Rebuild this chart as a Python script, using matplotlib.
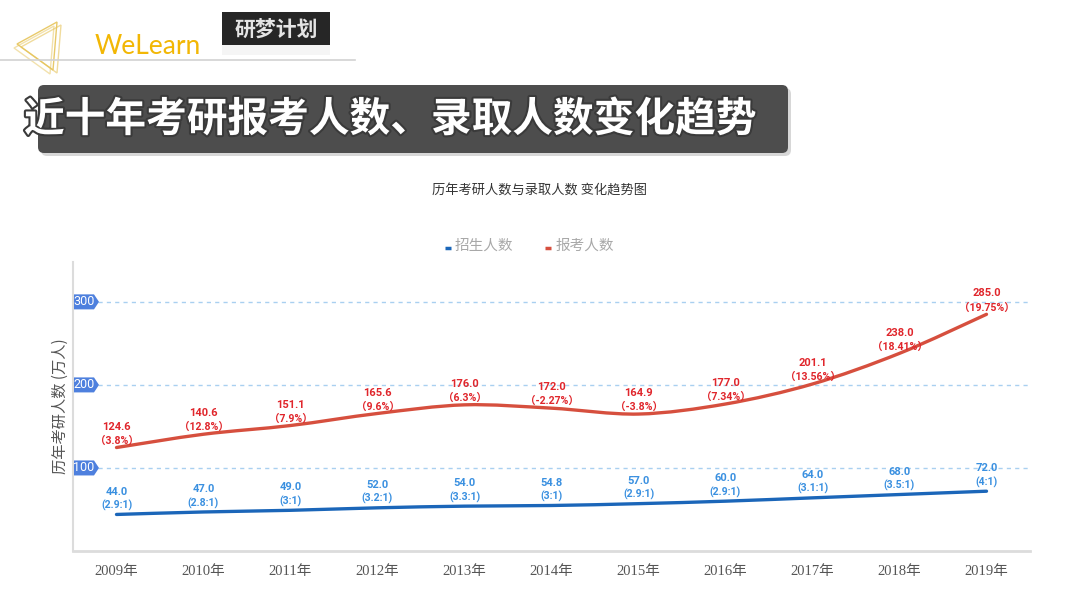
import matplotlib
matplotlib.use("Agg")
import matplotlib.pyplot as plt
import matplotlib.patheffects as pe
import matplotlib.transforms as mtrans
from matplotlib.path import Path
from matplotlib.patches import PathPatch, FancyBboxPatch, Polygon, Rectangle
import numpy as np

plt.rcParams['font.family'] = ['Noto Sans CJK SC', 'DejaVu Sans']

years = ['2009年', '2010年', '2011年', '2012年', '2013年', '2014年',
         '2015年', '2016年', '2017年', '2018年', '2019年']
applicants = [124.6, 140.6, 151.1, 165.6, 176.0, 172.0, 164.9, 177.0, 201.1, 238.0, 285.0]
applicant_growth = ['3.8%', '12.8%', '7.9%', '9.6%', '6.3%', '-2.27%', '-3.8%',
                    '7.34%', '13.56%', '18.41%', '19.75%']
admitted = [44.0, 47.0, 49.0, 52.0, 54.0, 54.8, 57.0, 60.0, 64.0, 68.0, 72.0]
admit_ratio = ['2.9:1', '2.8:1', '3:1', '3.2:1', '3.3:1', '3:1', '2.9:1',
               '2.9:1', '3.1:1', '3.5:1', '4:1']
y_ticks = [100, 200, 300]

RED_LINE = '#d64f3e'
RED_TXT = '#e0262c'
BLUE_LINE = '#1b66b9'
BLUE_TXT = '#3a90e0'
LABEL_FONT = ['Roboto', 'Noto Sans CJK SC']

W, H = 1080, 608
fig = plt.figure(figsize=(W / 100, H / 100), dpi=100)

# decoration layer in pixel coordinates
deco = fig.add_axes([0, 0, 1, 1], zorder=0)
deco.set_xlim(0, W)
deco.set_ylim(H, 0)
deco.axis('off')

# logo triangles
for dx, dy, a in [(0, 0, 0.9), (4, 3, 0.6), (-3, 4, 0.5)]:
    tri = Polygon([(17 + dx, 44 + dy), (57 + dx, 22 + dy), (53 + dx, 70 + dy)],
                  closed=True, fill=False, ec='#e6c45a', lw=1.0, alpha=a)
    deco.add_patch(tri)
deco.plot([0, 355], [60, 60], color='#d2d2d2', lw=1.2)
deco.text(95, 47, 'WeLearn', color='#f2b705', fontsize=19, family='Lato',
          va='center', ha='left')
deco.add_patch(Rectangle((222, 12), 108, 33, fc='#262626', ec='none'))
deco.add_patch(Rectangle((222, 45), 108, 10, fc='#c8c8c8', ec='none', alpha=0.18))
deco.text(276, 29, '研梦计划', color='#e4e4e4', fontsize=15, weight='bold',
          ha='center', va='center')

# title banner
deco.add_patch(FancyBboxPatch((41, 88), 750, 68, boxstyle='round,pad=0,rounding_size=6',
                              fc='#bdbdbd', ec='none', alpha=0.6))
deco.add_patch(FancyBboxPatch((38, 85), 750, 68, boxstyle='round,pad=0,rounding_size=6',
                              fc='#4d4d4d', ec='none'))
deco.text(24, 120, '近十年考研报考人数、录取人数变化趋势', color='white', fontsize=29.3,
          weight='bold', ha='left', va='center',
          path_effects=[pe.withStroke(linewidth=3, foreground='#3a3a3a')])

# chart title and legend
deco.text(540, 191, '历年考研人数与录取人数 变化趋势图', color='#333333', fontsize=9.5,
          ha='center', va='center')
deco.plot([445, 451], [248, 248], color=BLUE_LINE, lw=2.5, solid_capstyle='butt')
deco.text(455, 246, '招生人数', color='#a8a8a8', fontsize=10.5, ha='left', va='center')
deco.plot([545, 551], [248, 248], color=RED_LINE, lw=2.5, solid_capstyle='butt')
deco.text(556, 246, '报考人数', color='#a8a8a8', fontsize=10.5, ha='left', va='center')

# main chart
ax = fig.add_axes([73 / W, (H - 551) / H, (1030 - 73) / W, (551 - 262) / H], zorder=1)
ax.patch.set_alpha(0)
x = np.arange(len(years))
ax.set_xlim(-0.5, len(years) - 0.5)
ax.set_ylim(0, 348)


def smooth_path(xs, ys, k=0.16):
    pts = np.column_stack([xs, ys]).astype(float)
    verts = [pts[0]]
    codes = [Path.MOVETO]
    n = len(pts)
    for i in range(n - 1):
        p0 = pts[max(i - 1, 0)]
        p1 = pts[i]
        p2 = pts[i + 1]
        p3 = pts[min(i + 2, n - 1)]
        c1 = p1 + (p2 - p0) * k
        c2 = p2 - (p3 - p1) * k
        verts += [c1, c2, p2]
        codes += [Path.CURVE4] * 3
    return Path(verts, codes)


ax.add_patch(PathPatch(smooth_path(x, applicants), fill=False, ec=RED_LINE, lw=2.4,
                       capstyle='round', zorder=3))
ax.add_patch(PathPatch(smooth_path(x, admitted), fill=False, ec=BLUE_LINE, lw=2.4,
                       capstyle='round', zorder=3))

for i in range(len(years)):
    ax.annotate(f'{applicants[i]:.1f}', (x[i], applicants[i]), xytext=(0, 15),
                textcoords='offset points', ha='center', va='center', fontsize=8,
                weight='bold', color=RED_TXT, family=LABEL_FONT)
    ax.annotate(f'（{applicant_growth[i]}）', (x[i], applicants[i]), xytext=(0, 5),
                textcoords='offset points', ha='center', va='center', fontsize=7.6,
                weight='bold', color=RED_TXT, family=LABEL_FONT)
    ax.annotate(f'{admitted[i]:.1f}', (x[i], admitted[i]), xytext=(0, 16.5),
                textcoords='offset points', ha='center', va='center', fontsize=8,
                weight='bold', color=BLUE_TXT, family=LABEL_FONT)
    ax.annotate(f'({admit_ratio[i]})', (x[i], admitted[i]), xytext=(0, 6.5),
                textcoords='offset points', ha='center', va='center', fontsize=7.6,
                weight='bold', color=BLUE_TXT, family=LABEL_FONT)

gx0 = (98 - 73) / (1030 - 73)
badge = np.array([(1, -7.5), (21, -7.5), (26, 0), (21, 7.5), (1, 7.5)]) / 100.0
for v in y_ticks:
    ax.axhline(v, xmin=gx0, xmax=1, color='#a9d0f0', lw=1, ls=(0, (3, 3)), zorder=1)
    tr = fig.dpi_scale_trans + mtrans.ScaledTranslation(0, v, ax.get_yaxis_transform())
    ax.add_patch(Polygon(badge, closed=True, fc='#4e80de', ec='none',
                         transform=tr, zorder=4, clip_on=False))
    ax.annotate(str(v), (0, v), xycoords=ax.get_yaxis_transform(), xytext=(8, 0),
                textcoords='offset points', ha='center', va='center', fontsize=9,
                color='white', family=['Roboto', 'DejaVu Sans'], zorder=5)

ax.set_yticks([])
ax.set_xticks(x)
ax.set_xticklabels(years, fontsize=10.5, color='#555555',
                   family=['Liberation Serif', 'Noto Sans CJK SC'])
ax.tick_params(axis='x', length=0, pad=10)
for s in ['top', 'right']:
    ax.spines[s].set_visible(False)
ax.spines['left'].set_color('#dcdcdc')
ax.spines['left'].set_linewidth(1.5)
ax.spines['bottom'].set_color('#dcdcdc')
ax.spines['bottom'].set_linewidth(2)
ax.set_ylabel('历年考研人数 (万人)', fontsize=11, color='#555555', labelpad=3)

fig.savefig('out.png', dpi=100)
